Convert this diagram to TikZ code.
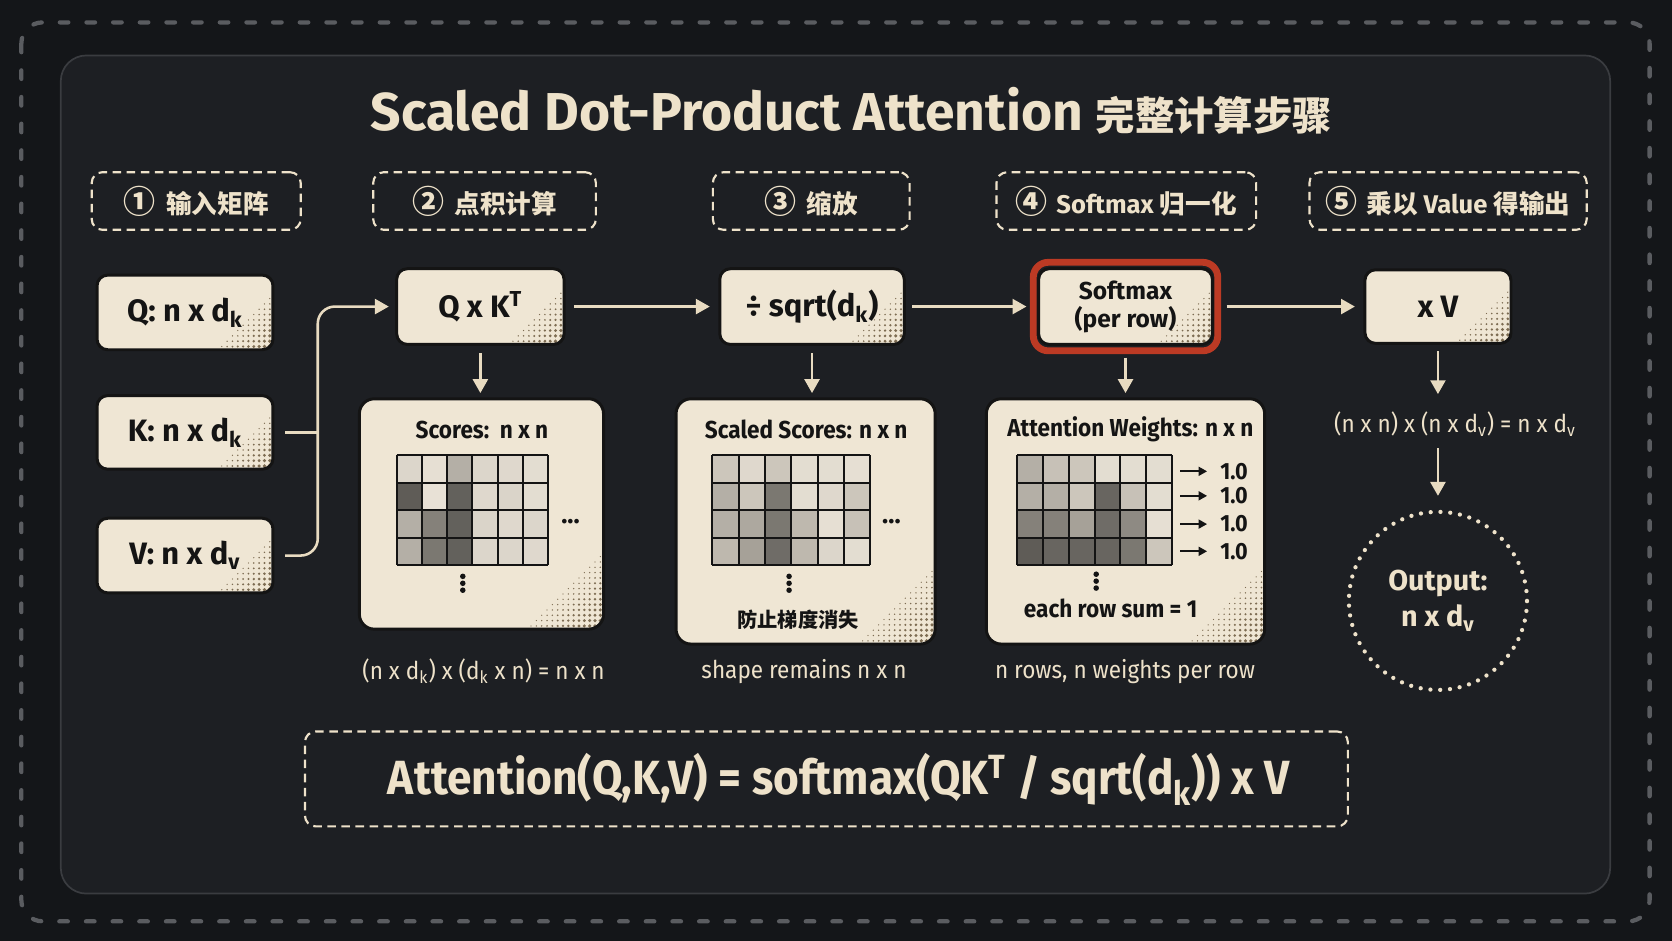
\documentclass[tikz,border=0pt]{standalone}
\usepackage{fontspec}
\setmainfont{Fira Sans}
\newfontfamily\condf{Fira Sans}[FakeStretch=0.92]
\newfontfamily\cjk{Noto Sans CJK SC}
\usetikzlibrary{arrows.meta,calc}
\definecolor{bgout}{HTML}{141619}
\definecolor{panel}{HTML}{1D1F23}
\definecolor{panelline}{HTML}{3A3C40}
\definecolor{outdash}{HTML}{5A5C60}
\definecolor{cream}{HTML}{EFE6D4}
\definecolor{creamtxt}{HTML}{EEE2CA}
\definecolor{arrowc}{HTML}{E8DBC1}
\definecolor{redring}{HTML}{BC3A24}
\definecolor{dotc}{HTML}{7D6C52}
\definecolor{cellbase}{HTML}{EDE6DA}
\definecolor{ink}{HTML}{141414}

\tikzset{
  mbox/.style={draw=ink, line width=1.4pt, fill=cream, rounded corners=5pt, text=ink, inner sep=0pt, font=\fontsize{14.5}{16}\selectfont\bfseries},
  bigbox/.style={mbox, rounded corners=7pt},
  halftone/.style={path picture={
      \foreach \i in {0,...,#1}{\foreach \j in {0,...,#1}{%
        \pgfmathtruncatemacro\hs{\i+\j}%
        \ifnum\hs<#1\relax
          \pgfmathsetmacro\hr{0.25+0.7*(1-\hs/#1)}%
          \fill[dotc] ([shift={(-3-5*\i,-3-5*\j)}]path picture bounding box.south east) circle[radius=\hr pt];%
        \fi}}}},
  stepbox/.style={draw=creamtxt, line width=1pt, dash pattern=on 4pt off 2.6pt, rounded corners=5pt, inner sep=0pt, text=creamtxt, font=\fontsize{12}{14}\selectfont\bfseries},
  arr/.style={draw=arrowc, line width=1.2pt, -{Triangle[length=6.5pt,width=7pt]}},
  plainline/.style={draw=arrowc, line width=1.2pt},
  smallarr/.style={draw=ink, line width=0.9pt, -{Triangle[length=4pt,width=4.2pt]}},
  gridline/.style={draw=ink, line width=0.9pt},
  caption/.style={text=creamtxt, font=\condf\fontsize{11.5}{13}\selectfont, inner sep=0pt},
  intitle/.style={text=ink, font=\condf\fontsize{11.5}{13}\selectfont\bfseries, inner sep=0pt},
}

\newcommand\hgrid[4]{%
  \begin{scope}[shift={(#1,#2)}]
    \foreach \v [count=\k from 0] in {#4} {
      \pgfmathtruncatemacro\gcol{mod(\k,6)}
      \pgfmathtruncatemacro\grow{div(\k,6)}
      \fill[black!\v!cellbase] (\gcol*#3,\grow*25.75) rectangle ++(#3,25.75);
    }
    \foreach \c in {0,...,6} \draw[gridline] (\c*#3,0) -- (\c*#3,103);
    \foreach \r in {0,...,4} \draw[gridline] (0,\r*25.75) -- (6*#3,\r*25.75);
  \end{scope}}
\newcommand\vdotsat[2]{%
  \foreach \dd in {-6.5,0,6.5} \fill[ink] (#1,#2+\dd) circle[radius=1.3pt];}

\begin{document}
\begin{tikzpicture}[x=0.5pt,y=-0.5pt]
\useasboundingbox (0,0) rectangle (1568,882);
\fill[bgout] (0,0) rectangle (1568,882);
\draw[outdash, line width=2pt, dash pattern=on 4pt off 8.5pt, line cap=round, rounded corners=10pt] (20,21) rectangle (1547,864);
\draw[fill=panel, draw=panelline, line width=0.8pt, rounded corners=12pt] (57,52) rectangle (1510,838);

% title
\node[text=creamtxt, font=\fontsize{25}{30}\selectfont\bfseries, inner sep=0pt] (title) at (798.5,104) {Scaled Dot-Product Attention {\cjk\fontsize{18.5}{22}\selectfont 完整计算步骤}};

% step labels
\node[stepbox, minimum width=98pt, minimum height=27pt] (s1) at (184,188.5) {{\cjk\fontsize{15}{15}\selectfont ①}\hspace{5pt}{\cjk 输入矩阵}};
\node[stepbox, minimum width=104.4pt, minimum height=27pt] (s2) at (454.4,188.5) {{\cjk\fontsize{15}{15}\selectfont ②}\hspace{5pt}{\cjk 点积计算}};
\node[stepbox, minimum width=92.25pt, minimum height=27pt] (s3) at (760.75,188.5) {{\cjk\fontsize{15}{15}\selectfont ③}\hspace{5pt}{\cjk 缩放}};
\node[stepbox, minimum width=121.75pt, minimum height=27pt] (s4) at (1056.25,188.5) {{\cjk\fontsize{15}{15}\selectfont ④}\hspace{4pt}Softmax {\cjk 归一化}};
\node[stepbox, minimum width=130pt, minimum height=27pt] (s5) at (1358,188.5) {{\cjk\fontsize{15}{15}\selectfont ⑤}\hspace{4pt}{\cjk 乘以} Value {\cjk 得输出}};

% input boxes
\node[mbox, halftone=10, minimum width=82.5pt, minimum height=35pt] (qb) at (173.5,293) {Q: n x d\textsubscript{k}};
\node[mbox, halftone=10, minimum width=82.5pt, minimum height=34.5pt] (kb) at (173.5,405.5) {K: n x d\textsubscript{k}};
\node[mbox, halftone=10, minimum width=82.5pt, minimum height=35pt] (vb) at (173.5,521) {V: n x d\textsubscript{v}};

% top row
\node[mbox, halftone=10, minimum width=78.5pt, minimum height=35.5pt] (qk) at (450.5,287.5) {Q x K\textsuperscript{T}};
\node[mbox, halftone=10, minimum width=86.5pt, minimum height=35.5pt] (sq) at (761.5,287.5) {÷ sqrt(d\textsubscript{k})};
\draw[redring, line width=3.2pt, rounded corners=7pt] (969,246) rectangle (1142,329);
\node[mbox, halftone=10, minimum width=81.5pt, minimum height=35.5pt, align=center, font=\fontsize{11.5}{13}\selectfont\bfseries] (sm) at (1055.5,287.5) {Softmax\\(per row)};
\node[mbox, halftone=10, minimum width=68.5pt, minimum height=34.5pt] (xv) at (1348.5,287.5) {x V};

% big boxes
\node[bigbox, halftone=14, minimum width=114.5pt, minimum height=108pt] (sc) at (451.5,482) {};
\node[bigbox, halftone=14, minimum width=121.5pt, minimum height=115pt] (ss) at (755.5,489) {};
\node[bigbox, halftone=14, minimum width=130.5pt, minimum height=115pt] (aw) at (1055.5,489) {};

\node[intitle] (sct) at (452,403) {Scores:\ \ n x n};
\node[intitle] (sst) at (756,403) {Scaled Scores: n x n};
\node[intitle] (awt) at (1060,403) {Attention Weights: n x n};

\hgrid{372}{427}{23.67}{7,3,24,7,6,4, 60,2,58,6,8,4, 24,44,58,8,6,7, 24,48,58,7,7,6}
\hgrid{668}{427}{24.67}{14,6,14,4,4,3, 24,14,48,4,6,14, 24,27,48,20,3,16, 20,30,53,20,7,4}
\hgrid{954}{427}{24.17}{24,16,14,4,4,4, 24,24,14,56,16,4, 44,44,30,53,40,3, 60,56,56,56,48,14}

\node[text=ink, font=\fontsize{12}{12}\selectfont\bfseries, inner sep=0pt] (hd1) at (535,489) {...};
\node[text=ink, font=\fontsize{12}{12}\selectfont\bfseries, inner sep=0pt] (hd2) at (836,489) {...};
\vdotsat{434}{547}
\vdotsat{740}{547}
\vdotsat{1028}{545}

\node[text=ink, font=\cjk\fontsize{9.5}{11}\selectfont\bfseries, inner sep=0pt] (ssnote) at (748.5,581.5) {防止梯度消失};
\node[intitle] (awnote) at (1041.5,571) {each row sum = 1};

\foreach \yy [count=\n] in {442,465,491.5,517} {
  \node[text=ink, font=\condf\fontsize{11}{12}\selectfont\bfseries, inner sep=0pt, anchor=west] (w\n) at (1144,\yy) {1.0};
  \draw[smallarr] ([xshift=-18.5pt]w\n.west) -- ([xshift=-6pt]w\n.west);
}

% captions
\node[caption] (c1) at (453.5,629) {(n x d\textsubscript{k}) x (d\textsubscript{k} x n) = n x n};
\node[caption] (c2) at (754,630) {shape remains n x n};
\node[caption] (c3) at (1055,630) {n rows, n weights per row};
\node[caption, minimum height=22pt] (c4) at (1364.5,398) {(n x n) x (n x d\textsubscript{v}) = n x d\textsubscript{v}};

% output circle
\node[circle, draw=creamtxt, line width=2pt, dash pattern=on 0pt off 4.6pt, line cap=round, minimum size=83.5pt, inner sep=0pt, align=center, text=creamtxt, font=\fontsize{13.5}{17}\selectfont\bfseries] (out) at (1348.5,563.5) {Output:\\n x d\textsubscript{v}};

% connectors
\coordinate (kj) at (298,405.5);
\draw[plainline] ([xshift=5pt]kb.east) -- (kj);
\draw[arr, rounded corners=8pt, shorten >=3pt] ([xshift=5pt]vb.east) -- (vb.east -| kj) -- (kj |- qk.west) -- (qk.west);
\draw[arr, shorten <=4pt, shorten >=4pt] (qk.east) -- (sq.west);
\draw[arr, shorten <=3pt, shorten >=5pt] (sq.east) -- (sm.west);
\draw[arr, shorten <=6pt, shorten >=4pt] (sm.east) -- (xv.west);
\draw[arr, shorten <=3.5pt, shorten >=2pt] (qk.south) -- (qk.south |- sc.north);
\draw[arr, shorten <=3.5pt, shorten >=2pt] (sq.south) -- (sq.south |- ss.north);
\draw[arr, shorten <=5.5pt, shorten >=2pt] (sm.south) -- (sm.south |- aw.north);
\draw[arr, shorten <=3pt, shorten >=3pt] (xv.south) -- (xv.south |- c4.north);
\draw[arr, shorten >=6.5pt] (xv.south |- c4.south) -- (out.north);

% formula
\node[stepbox, minimum width=489pt, minimum height=44.5pt] (fbox) at (775,730.5) {};
\node[text=creamtxt, font=\condf\fontsize{22.5}{26}\selectfont\bfseries, inner sep=0pt] (ftext) at (786.5,731) {Attention(Q,K,V) = softmax(QK\textsuperscript{T} / sqrt(d\textsubscript{k})) x V};
\end{tikzpicture}
\end{document}
